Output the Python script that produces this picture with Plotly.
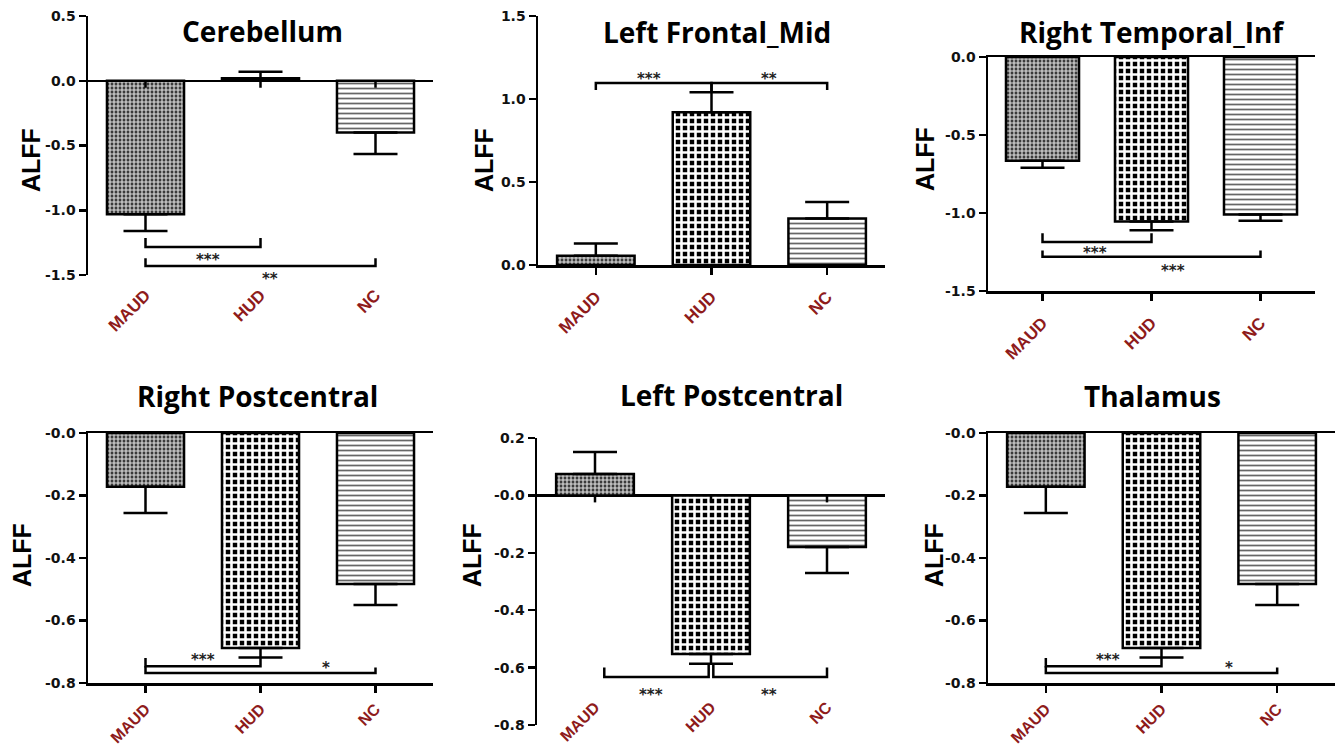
import plotly.graph_objects as go

# ---------------- data ----------------
categories = ["MAUD", "HUD", "NC"]

cerebellum_mean = [-1.03, 0.02, -0.40]
cerebellum_sem = [0.13, 0.05, 0.165]
frontal_mid_mean = [0.055, 0.92, 0.28]
frontal_mid_sem = [0.075, 0.12, 0.10]
temporal_inf_mean = [-0.665, -1.055, -1.01]
temporal_inf_sem = [0.045, 0.055, 0.04]
r_postcentral_mean = [-0.172, -0.688, -0.483]
r_postcentral_sem = [0.084, 0.03, 0.067]
l_postcentral_mean = [0.075, -0.553, -0.18]
l_postcentral_sem = [0.076, 0.034, 0.09]
thalamus_mean = [-0.172, -0.688, -0.483]
thalamus_sem = [0.084, 0.03, 0.067]

panel_titles = ["Cerebellum", "Left Frontal_Mid", "Right Temporal_Inf",
                "Right Postcentral", "Left Postcentral", "Thalamus"]
y_title = "ALFF"

cerebellum_ticks = [0.5, 0.0, -0.5, -1.0, -1.5]
cerebellum_ticktext = ["0.5", "0.0", "-0.5", "-1.0", "-1.5"]
frontal_mid_ticks = [0.0, 0.5, 1.0, 1.5]
frontal_mid_ticktext = ["0.0", "0.5", "1.0", "1.5"]
temporal_inf_ticks = [0.0, -0.5, -1.0, -1.5]
temporal_inf_ticktext = ["0.0", "-0.5", "-1.0", "-1.5"]
postcentral_ticks = [0.0, -0.2, -0.4, -0.6, -0.8]
postcentral_ticktext = ["-0.0", "-0.2", "-0.4", "-0.6", "-0.8"]
l_postcentral_ticks = [0.2, 0.0, -0.2, -0.4, -0.6, -0.8]
l_postcentral_ticktext = ["0.2", "-0.0", "-0.2", "-0.4", "-0.6", "-0.8"]

# significance brackets: (group a, group b, bar level, tip at a, tip at b)
cerebellum_brackets = [(0, 1, -1.284, -1.214, -1.214), (0, 2, -1.43, -1.37, -1.37)]
cerebellum_stars = [("***", 0.54, -1.36), ("**", 1.08, -1.51)]
frontal_mid_brackets = [(0, 1, 1.096, 1.054, 1.04), (1, 2, 1.096, 1.04, 1.054)]
frontal_mid_stars = [("***", 0.46, 1.14), ("**", 1.5, 1.14)]
temporal_inf_brackets = [(0, 1, -1.186, -1.13, -1.13), (0, 2, -1.28, -1.24, -1.24)]
temporal_inf_stars = [("***", 0.48, -1.24), ("***", 1.2, -1.35)]
r_postcentral_brackets = [(0, 1, -0.746, -0.72, -0.717), (0, 2, -0.768, -0.746, -0.75)]
r_postcentral_stars = [("***", 0.5, -0.717), ("*", 1.57, -0.742)]
l_postcentral_brackets = [(0.08, 0.98, -0.633, -0.60, -0.587), (1.02, 2, -0.633, -0.587, -0.60)]
l_postcentral_stars = [("***", 0.48, -0.685), ("**", 1.5, -0.685)]
thalamus_brackets = [(0, 1, -0.746, -0.72, -0.717), (0, 2, -0.768, -0.746, -0.75)]
thalamus_stars = [("***", 0.54, -0.717), ("*", 1.58, -0.742)]

# ---------------- layout helpers ----------------
W, H = 1341, 748


def fx(p):
    return p / W


def fy(p):
    return 1 - p / H


panels = [
    dict(mean=cerebellum_mean, sem=cerebellum_sem, yr=[-1.5, 0.5], tv=cerebellum_ticks,
         tt=cerebellum_ticktext, br=cerebellum_brackets, st=cerebellum_stars,
         box=(88, 433, 16, 275), title=(262, 31), alff=(31, 160), mode="zero", lab=281),
    dict(mean=frontal_mid_mean, sem=frontal_mid_sem, yr=[0, 1.5], tv=frontal_mid_ticks,
         tt=frontal_mid_ticktext, br=frontal_mid_brackets, st=frontal_mid_stars,
         box=(538, 885, 16, 265), title=(717, 32), alff=(484, 160), mode="bottom", lab=None),
    dict(mean=temporal_inf_mean, sem=temporal_inf_sem, yr=[-1.5, 0], tv=temporal_inf_ticks,
         tt=temporal_inf_ticktext, br=temporal_inf_brackets, st=temporal_inf_stars,
         box=(988, 1315, 57, 291), title=(1152, 32), alff=(925, 159), mode="box", lab=None),
    dict(mean=r_postcentral_mean, sem=r_postcentral_sem, yr=[-0.8, 0], tv=postcentral_ticks,
         tt=postcentral_ticktext, br=r_postcentral_brackets, st=r_postcentral_stars,
         box=(88, 433, 433, 683), title=(257, 396), alff=(22, 555), mode="box", lab=None),
    dict(mean=l_postcentral_mean, sem=l_postcentral_sem, yr=[-0.8, 0.2], tv=l_postcentral_ticks,
         tt=l_postcentral_ticktext, br=l_postcentral_brackets, st=l_postcentral_stars,
         box=(537, 885, 438, 725), title=(731, 395), alff=(472, 555), mode="zero", lab=694),
    dict(mean=thalamus_mean, sem=thalamus_sem, yr=[-0.8, 0], tv=postcentral_ticks,
         tt=postcentral_ticktext, br=thalamus_brackets, st=thalamus_stars,
         box=(988, 1335, 433, 683), title=(1152, 396), alff=(934, 555), mode="box", lab=None),
]

# fill textures: MAUD fine checker, HUD coarse checker, NC horizontal stripes
pattern_shape = ["+", "+", "-"]
pattern_size = [4, 7, 5]
pattern_solid = [0.5, 0.6, 0.35]
pattern_fg = ["#dddddd", "#ffffff", "#666666"]
pattern_bg = ["#3a3a3a", "#000000", "#ffffff"]

tick_font = dict(family="DejaVu Sans", size=14, color="#111111", weight="bold")

fig = go.Figure()
annotations = []
shapes = []
layout = {}

for k, p in enumerate(panels):
    n = "" if k == 0 else str(k + 1)
    xa, ya = "x" + n, "y" + n
    x0, x1, y0, y1 = p["box"]
    r0, r1 = p["yr"]
    xs = list(range(len(categories)))
    up = [e if m >= 0 else 0 for m, e in zip(p["mean"], p["sem"])]
    dn = [e if m < 0 else 0 for m, e in zip(p["mean"], p["sem"])]
    fig.add_trace(go.Bar(
        x=xs, y=p["mean"], width=0.67, xaxis=xa, yaxis=ya,
        marker=dict(color="white", line=dict(color="black", width=2.5),
                    pattern=dict(shape=pattern_shape, size=pattern_size,
                                 solidity=pattern_solid, fgcolor=pattern_fg,
                                 bgcolor=pattern_bg, fillmode="replace")),
        error_y=dict(type="data", symmetric=False, array=up, arrayminus=dn,
                     color="black", thickness=2.5, width=22),
        cliponaxis=False, hoverinfo="skip",
    ))
    # brackets
    for (a, b, lvl, ta, tb) in p["br"]:
        fig.add_trace(go.Scatter(
            x=[a, a, b, b], y=[ta, lvl, lvl, tb], mode="lines",
            line=dict(color="black", width=2.5), xaxis=xa, yaxis=ya,
            cliponaxis=False, hoverinfo="skip"))
    for (txt, sx, sy) in p["st"]:
        ypaper = fy(y1) + (sy - r0) / (r1 - r0) * (fy(y0) - fy(y1))
        annotations.append(dict(text=txt, x=sx, y=ypaper, xref=xa, yref="paper", showarrow=False,
                                xanchor="center", yanchor="middle",
                                font=dict(family="DejaVu Sans", size=15, color="#222222",
                                          weight="bold"),
                                yshift=-3))

    cat_font = dict(family="Liberation Sans", size=17 if k < 3 else 16,
                    color="#8e1b1b", weight="bold")
    xaxis = dict(domain=[fx(x0), fx(x1)], range=[-0.5, 2.5], tickvals=xs,
                 ticktext=categories, tickangle=-45, tickfont=cat_font,
                 showgrid=False, zeroline=False, fixedrange=True, automargin=False)
    yaxis = dict(domain=[fy(y1), fy(y0)], range=p["yr"], tickvals=p["tv"], ticktext=p["tt"],
                 tickfont=tick_font, showgrid=False, showline=True, linecolor="black",
                 linewidth=2.5, ticks="outside", ticklen=7, tickwidth=2.5,
                 tickcolor="black", anchor=xa, fixedrange=True, automargin=False)
    if p["mode"] == "zero":
        xaxis.update(anchor="free", position=fy(p["lab"]), showline=False, ticks="")
        yaxis.update(zeroline=True, zerolinecolor="black", zerolinewidth=2.5)
        for i in xs:
            shapes.append(dict(type="line", xref=xa, yref=ya, x0=i, x1=i,
                               ysizemode="pixel", yanchor=0, y0=0, y1=-7,
                               line=dict(color="black", width=2.5)))
    else:
        xaxis.update(anchor=ya, showline=True, linecolor="black", linewidth=2.5,
                     ticks="outside", ticklen=7, tickwidth=2.5, tickcolor="black",
                     ticklabelstandoff=6 if k < 3 else 1)
        yaxis.update(zeroline=False)
        if p["mode"] == "box":
            xaxis.update(mirror=True)
    layout["xaxis" + n] = xaxis
    layout["yaxis" + n] = yaxis

    tx, ty = p["title"]
    annotations.append(dict(text=panel_titles[k], x=fx(tx), y=fy(ty), xref="paper", yref="paper",
                            showarrow=False, xanchor="center", yanchor="middle",
                            font=dict(family="Open Sans", size=28, color="black", weight="bold")))
    ax_, ay_ = p["alff"]
    annotations.append(dict(text=y_title, x=fx(ax_), y=fy(ay_), xref="paper", yref="paper",
                            showarrow=False, textangle=-90, xanchor="center", yanchor="middle",
                            font=dict(family="Liberation Sans", size=25, color="black",
                                      weight="bold")))

fig.update_layout(**layout)
fig.update_layout(width=W, height=H, autosize=False, margin=dict(l=0, r=0, t=0, b=0),
                  paper_bgcolor="white", plot_bgcolor="white", showlegend=False,
                  bargap=0.3, annotations=annotations, shapes=shapes)

fig.write_html("out.html", config={"displayModeBar": False, "staticPlot": True},
               post_script="document.body.style.margin='0px';"
                           "document.body.style.overflow='hidden';")
